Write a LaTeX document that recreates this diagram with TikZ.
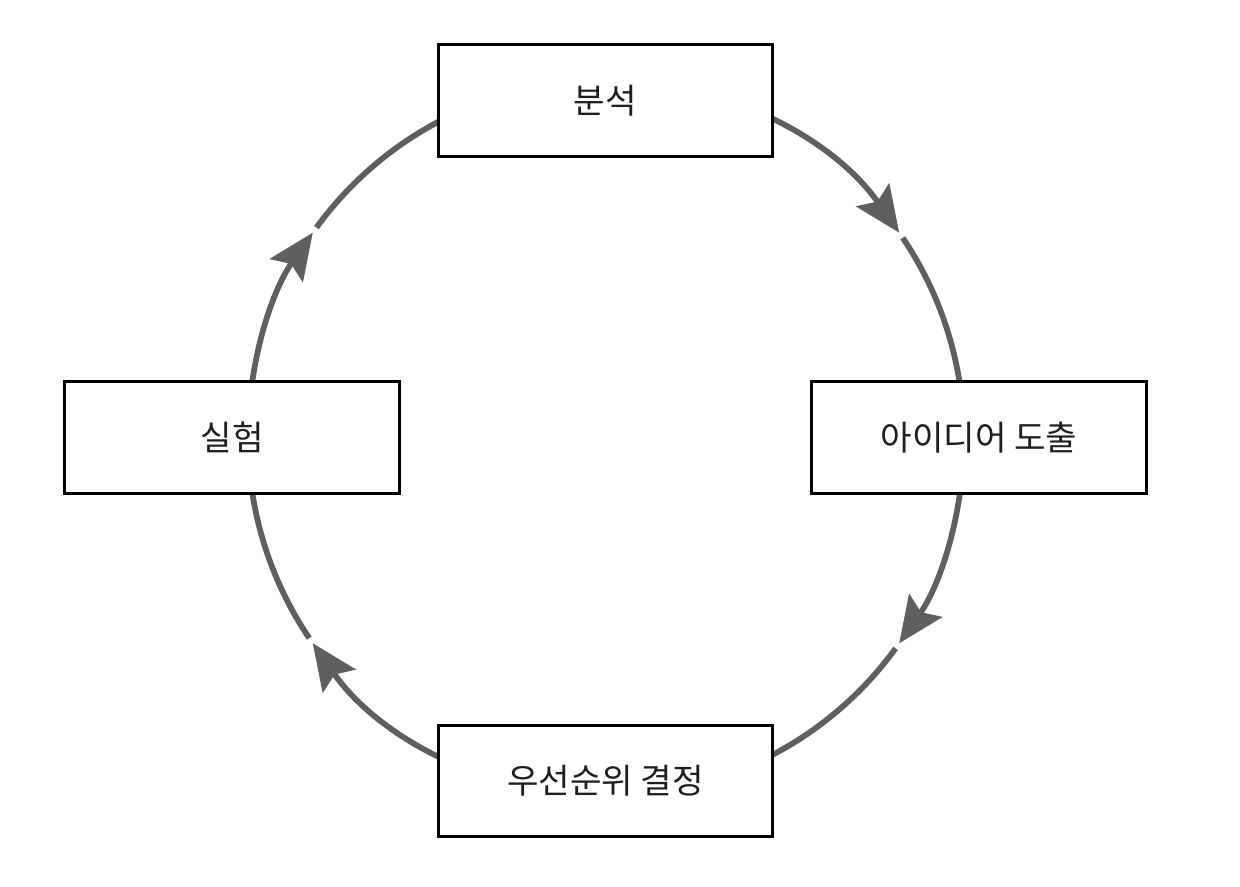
\documentclass[tikz,border=0pt]{standalone}
\usepackage{fontspec}
\setmainfont{Noto Sans CJK KR}
\usepackage{tikz}
\usetikzlibrary{arrows.meta, backgrounds}
\definecolor{cyclegray}{RGB}{95,95,97}
\definecolor{labelink}{RGB}{30,30,30}
\tikzset{
    stage/.style={draw=black, line width=0.06cm, fill=white, minimum width=6.7cm, minimum height=2.24cm, inner sep=0pt, text=labelink, font=\fontsize{19.5}{23}\selectfont},
    cycleline/.style={draw=cyclegray, line width=0.115cm},
    cyclearrow/.style={cycleline, -{Stealth[length=0.92cm, width=0.8cm, inset=0.16cm]}},
}

\begin{document}
\begin{tikzpicture}[x=0.02cm, y=0.02cm]
    \useasboundingbox (0, 0) rectangle (1240, 886);
    % circle centre
    \coordinate (c) at (606, 448);
    \node[stage] (analysis) at (605.5, 785.5) {분석};
    \node[stage] (ideas) at (979, 448.5) {아이디어 도출};
    \node[stage] (priority) at (605.5, 105) {우선순위 결정};
    \node[stage] (test) at (232, 448.5) {실험};
    \begin{scope}[on background layer]
        % analysis -> ideas
        \draw[cyclearrow] ([shift={(90:7.16cm)}]c) arc[start angle=90, end angle=35, radius=7.16cm];
        \draw[cycleline] ([shift={(34:7.16cm)}]c) arc[start angle=34, end angle=0, radius=7.16cm];
        % ideas -> priority
        \draw[cyclearrow] ([shift={(0:7.16cm)}]c) arc[start angle=0, end angle=-35, radius=7.16cm];
        \draw[cycleline] ([shift={(-36:7.16cm)}]c) arc[start angle=-36, end angle=-90, radius=7.16cm];
        % priority -> test
        \draw[cyclearrow] ([shift={(270:7.16cm)}]c) arc[start angle=270, end angle=215, radius=7.16cm];
        \draw[cycleline] ([shift={(214:7.16cm)}]c) arc[start angle=214, end angle=180, radius=7.16cm];
        % test -> analysis
        \draw[cyclearrow] ([shift={(180:7.16cm)}]c) arc[start angle=180, end angle=145, radius=7.16cm];
        \draw[cycleline] ([shift={(144:7.16cm)}]c) arc[start angle=144, end angle=90, radius=7.16cm];
    \end{scope}
\end{tikzpicture}
\end{document}
